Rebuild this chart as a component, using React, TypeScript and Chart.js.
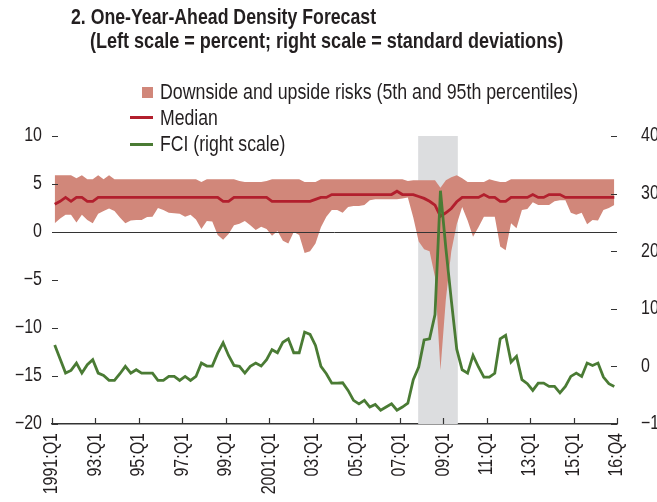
import React, { useEffect, useRef } from "react";
import { Chart, registerables } from "chart.js";

Chart.register(...registerables);

// ---- data (quarterly, 1991:Q1 ... 2016:Q4) ----
const tickQuarters = [0, 8, 16, 24, 32, 40, 48, 56, 64, 72, 80, 88, 96, 104];
const tickLabels = ["1991:Q1", "93:Q1", "95:Q1", "97:Q1", "99:Q1", "2001:Q1", "03:Q1", "05:Q1", "07:Q1", "09:Q1", "11:Q1", "13:Q1", "15:Q1", "16:Q4"];
const leftTickValues = [10, 5, 0, -5, -10, -15, -20];
const rightTickValues = [40, 30, 20, 10, 0, -10];
const recession = [67.4, 74.7];

const upper95 = [
  5.9, 5.9, 5.9, 5.9, 5.6, 5.9, 5.5, 5.5, 5.9, 5.5,
  5.9, 5.5, 5.5, 5.5, 5.5, 5.5, 5.5, 5.5, 5.5, 5.5,
  5.5, 5.5, 5.5, 5.5, 5.5, 5.5, 5.5, 5.2, 5.5, 5.5,
  5.5, 5.5, 5.5, 5.5, 5.3, 5.2, 5.2, 5.2, 5.2, 5.3,
  5.5, 5.5, 5.5, 5.5, 5.5, 5.5, 5.2, 5.2, 5.2, 5.5,
  5.5, 5.5, 5.5, 5.5, 5.5, 5.5, 5.5, 5.5, 5.5, 5.5,
  5.5, 5.5, 5.5, 5.5, 5.5, 5.3, 5.4, 5.4, 5.4, 5.4,
  5.4, 4.6, 5.4, 5.7, 5.9, 5.6, 5.2, 5.2, 5.2, 5.2,
  5.5, 5.35, 5.2, 5.2, 5.5, 5.5, 5.5, 5.5, 5.5, 5.5,
  5.5, 5.5, 5.5, 5.5, 5.5, 5.5, 5.5, 5.5, 5.5, 5.5,
  5.5, 5.5, 5.5, 5.5,
];

const median = [
  2.9, 3.2, 3.6, 3.2, 3.6, 3.6, 3.2, 3.2, 3.6, 3.6,
  3.6, 3.6, 3.6, 3.6, 3.6, 3.6, 3.6, 3.6, 3.6, 3.6,
  3.6, 3.6, 3.6, 3.6, 3.6, 3.6, 3.6, 3.6, 3.6, 3.6,
  3.6, 3.2, 3.2, 3.6, 3.6, 3.6, 3.6, 3.6, 3.6, 3.6,
  3.2, 3.2, 3.2, 3.2, 3.2, 3.2, 3.2, 3.2, 3.4, 3.6,
  3.6, 3.9, 3.9, 3.9, 3.9, 3.9, 3.9, 3.9, 3.9, 3.9,
  3.9, 3.9, 3.9, 4.25, 3.9, 3.9, 3.9, 3.7, 3.5, 3.2,
  2.8, 1.65, 2.0, 2.45, 3.15, 3.6, 3.6, 3.6, 3.6, 3.9,
  3.6, 3.6, 3.2, 3.2, 3.6, 3.6, 3.6, 3.6, 3.9, 3.6,
  3.6, 3.9, 3.9, 3.9, 3.6, 3.6, 3.6, 3.6, 3.6, 3.6,
  3.6, 3.6, 3.6, 3.6,
];

const lower5 = [
  0.9, 1.4, 1.8, 1.8, 1.0, 1.8, 1.25, 0.9, 1.9, 2.2,
  2.45, 2.2, 1.5, 0.9, 1.2, 1.25, 1.25, 1.55, 1.6, 2.5,
  2.3, 2.0, 1.95, 1.9, 1.6, 1.8, 1.3, 0.3, 1.15, 1.1,
  -0.3, -0.8, -0.2, 0.7, 0.85, 1.15, 0.7, 0.2, 0.55, 0.3,
  -0.4, 0.1, -0.9, -1.2, 0.0, -0.3, -2.2, -2.0, -1.2, 0.5,
  1.6, 2.3, 2.3, 2.0, 2.6, 2.7, 2.7, 2.8, 3.3, 3.4,
  3.4, 3.4, 3.4, 3.4, 3.5, 3.6, 1.5, -1.0, -1.8, -2.0,
  -4.7, -14.4, -7.0, -2.0, 0.8, 2.6, 1.2, -0.5, 0.5, 1.6,
  1.6, 1.6, -1.5, -1.9, 0.9, 0.4, 2.3, 2.4, 3.1, 2.8,
  2.8, 2.8, 3.2, 3.3, 3.3, 2.0, 1.8, 2.0, 0.8, 1.25,
  1.2, 2.3, 2.5, 2.8,
];

const fci = [
  3.7, 1.3, -1.16, -0.7, 0.58, -1.16, 0.3, 1.16, -1.16, -1.56,
  -2.43, -2.43, -1.27, 0, -1.16, -0.58, -1.16, -1.16, -1.16, -2.43,
  -2.43, -1.74, -1.74, -2.43, -1.74, -2.43, -1.74, 0.58, 0.06, 0.06,
  2.3, 4.1, 1.9, 0.17, 0, -1.16, 0, 0.58, 0.06, 1.16,
  2.9, 2.37, 4.2, 4.8, 2.37, 2.37, 5.96, 5.56, 3.65, 0,
  -1.27, -2.9, -2.9, -2.84, -4.17, -5.9, -6.5, -5.9, -7.06, -6.6,
  -7.6, -7.06, -6.5, -7.6, -7.06, -6.4, -2.3, -0.1, 4.6, 4.8,
  9.0, 30.5, 20.5, 11.5, 3.0, -0.58, -1.16, 1.9, -0.1, -1.85,
  -1.85, -1.2, 4.8, 5.4, 0.75, 1.74, -2.3, -3.0, -4.17, -2.9,
  -2.9, -3.47, -3.47, -4.6, -3.47, -1.74, -1.16, -1.74, 0.58, 0.17,
  0.58, -1.85, -3.0, -3.47,
];

// ---- styles ----
const FONT = '"Liberation Sans", Arial, sans-serif';
const NARROW = 0.82; // horizontal squeeze to mimic a narrow face
const TICK_SIZE = 19.5;
const TEXT = "#231F20";
const BAND = "#D1877A";
const MEDIAN = "#B21F2D";
const GREEN = "#4A7B34";
const GRAY = "#DCDDDF";

const toPoints = (arr: number[]) => arr.map((y, i) => ({ x: i + 0.5, y }));
const fmt = (v: number) => (v < 0 ? "\u2212" + Math.abs(v) : String(v));

function narrowText(ctx: CanvasRenderingContext2D, text: string, x: number, y: number, align: CanvasTextAlign, rotate: number) {
  ctx.save();
  ctx.translate(x, y);
  if (rotate) ctx.rotate(rotate);
  ctx.scale(NARROW, 1);
  ctx.textAlign = align;
  ctx.textBaseline = "middle";
  ctx.fillText(text, 0, 0);
  ctx.restore();
}

const decor = {
  id: "decor",
  beforeDatasetsDraw(chart: any) {
    const { ctx, chartArea, scales } = chart;
    const x0 = scales.x.getPixelForValue(recession[0]);
    const x1 = scales.x.getPixelForValue(recession[1]);
    ctx.save();
    ctx.fillStyle = GRAY;
    ctx.fillRect(x0, chartArea.top, x1 - x0, chartArea.bottom - chartArea.top);
    ctx.restore();
  },
  afterDatasetDraw(chart: any, args: any) {
    if (args.index !== 2) return;
    const { ctx, chartArea, scales } = chart;
    const y = Math.round(scales.y.getPixelForValue(0)) + 0.5;
    ctx.save();
    ctx.strokeStyle = "#333333";
    ctx.lineWidth = 1;
    ctx.beginPath();
    ctx.moveTo(chartArea.left, y);
    ctx.lineTo(chartArea.right, y);
    ctx.stroke();
    ctx.restore();
  },
  afterDraw(chart: any) {
    const { ctx, chartArea, scales } = chart;
    ctx.save();
    // tick marks (pointing into the plot)
    ctx.strokeStyle = "#333333";
    ctx.lineWidth = 1.2;
    ctx.beginPath();
    leftTickValues.forEach((v) => {
      const y = Math.round(scales.y.getPixelForValue(v)) + 0.5;
      ctx.moveTo(chartArea.left, y);
      ctx.lineTo(chartArea.left + 6, y);
    });
    rightTickValues.forEach((v) => {
      const y = Math.round(scales.y2.getPixelForValue(v)) + 0.5;
      ctx.moveTo(chartArea.right - 6, y);
      ctx.lineTo(chartArea.right, y);
    });
    tickQuarters.forEach((q) => {
      const x = Math.round(scales.x.getPixelForValue(q)) + 0.5;
      ctx.moveTo(x, chartArea.bottom);
      ctx.lineTo(x, chartArea.bottom - 6);
    });
    ctx.stroke();
    // tick labels
    ctx.fillStyle = TEXT;
    ctx.font = `${TICK_SIZE}px ${FONT}`;
    leftTickValues.forEach((v) => {
      narrowText(ctx, fmt(v), chartArea.left - 10, scales.y.getPixelForValue(v), "right", 0);
    });
    rightTickValues.forEach((v) => {
      narrowText(ctx, fmt(v), chartArea.right + 24, scales.y2.getPixelForValue(v), "left", 0);
    });
    tickQuarters.forEach((q, i) => {
      narrowText(ctx, tickLabels[i], scales.x.getPixelForValue(q), chartArea.bottom + 9, "right", -Math.PI / 2);
    });
    ctx.restore();
  },
};

export default function App() {
  const ref = useRef<HTMLCanvasElement | null>(null);

  useEffect(() => {
    if (!ref.current) return;
    const chart = new Chart(ref.current, {
      type: "line",
      data: {
        datasets: [
          {
            label: "FCI (right scale)",
            data: toPoints(fci),
            yAxisID: "y2",
            borderColor: GREEN,
            borderWidth: 2.8,
            pointRadius: 0,
            fill: false,
            tension: 0,
          },
          {
            label: "Median",
            data: toPoints(median),
            yAxisID: "y",
            borderColor: MEDIAN,
            borderWidth: 2.8,
            pointRadius: 0,
            fill: false,
            tension: 0,
          },
          {
            label: "Downside and upside risks (5th and 95th percentiles)",
            data: toPoints(upper95),
            yAxisID: "y",
            borderColor: "transparent",
            borderWidth: 0,
            backgroundColor: BAND,
            pointRadius: 0,
            fill: "+1",
            tension: 0,
          },
          {
            label: "5th percentile",
            data: toPoints(lower5),
            yAxisID: "y",
            borderColor: "transparent",
            borderWidth: 0,
            pointRadius: 0,
            fill: false,
            tension: 0,
          },
        ],
      },
      options: {
        animation: false,
        responsive: false,
        maintainAspectRatio: false,
        layout: { padding: { top: 136, left: 0, right: 0, bottom: 0 } },
        plugins: {
          legend: { display: false },
          tooltip: { enabled: false },
          title: { display: false },
        },
        scales: {
          x: {
            type: "linear",
            position: "bottom",
            min: 0,
            max: 104,
            grid: { display: false, drawTicks: false },
            border: { display: true, color: "#333333", width: 1.5 },
            afterBuildTicks: (s: any) => {
              s.ticks = tickQuarters.map((v) => ({ value: v }));
            },
            afterFit: (s: any) => {
              s.height = 78;
            },
            ticks: { display: false },
          },
          y: {
            type: "linear",
            position: "left",
            min: -20,
            max: 10,
            grid: { display: false, drawTicks: false },
            border: { display: false },
            afterBuildTicks: (s: any) => {
              s.ticks = leftTickValues.map((v) => ({ value: v }));
            },
            afterFit: (s: any) => {
              s.width = 52;
            },
            ticks: { display: false },
          },
          y2: {
            type: "linear",
            position: "right",
            min: -10,
            max: 40,
            grid: { display: false, drawTicks: false },
            border: { display: false },
            afterBuildTicks: (s: any) => {
              s.ticks = rightTickValues.map((v) => ({ value: v }));
            },
            afterFit: (s: any) => {
              s.width = 40;
            },
            ticks: { display: false },
          },
        },
      },
      plugins: [decor],
    } as any);
    return () => chart.destroy();
  }, []);

  const textBase: React.CSSProperties = {
    position: "absolute",
    fontFamily: FONT,
    color: TEXT,
    whiteSpace: "nowrap",
    lineHeight: "24px",
    transform: `scaleX(${NARROW})`,
    transformOrigin: "0 50%",
  };

  return (
    <div style={{ position: "absolute", left: 0, top: 0, width: 657, height: 502, background: "#ffffff", overflow: "hidden" }}>
      <canvas ref={ref} width={657} height={502} style={{ position: "absolute", left: 0, top: 0, width: 657, height: 502 }} />
      <div style={{ ...textBase, left: 71, top: 5, fontSize: 21.6, fontWeight: 700 }}>2. One-Year-Ahead Density Forecast</div>
      <div style={{ ...textBase, left: 90, top: 29, fontSize: 22, fontWeight: 700 }}>(Left scale = percent; right scale = standard deviations)</div>

      <div style={{ position: "absolute", left: 142, top: 87, width: 11, height: 11, background: BAND }} />
      <div style={{ ...textBase, left: 160, top: 80, fontSize: 21.7 }}>Downside and upside risks (5th and 95th percentiles)</div>

      <div style={{ position: "absolute", left: 130, top: 116, width: 23, height: 3, background: MEDIAN }} />
      <div style={{ ...textBase, left: 160, top: 106, fontSize: 21.5 }}>Median</div>

      <div style={{ position: "absolute", left: 130, top: 143, width: 23, height: 3, background: GREEN }} />
      <div style={{ ...textBase, left: 160, top: 132, fontSize: 21.5 }}>FCI (right scale)</div>
    </div>
  );
}
